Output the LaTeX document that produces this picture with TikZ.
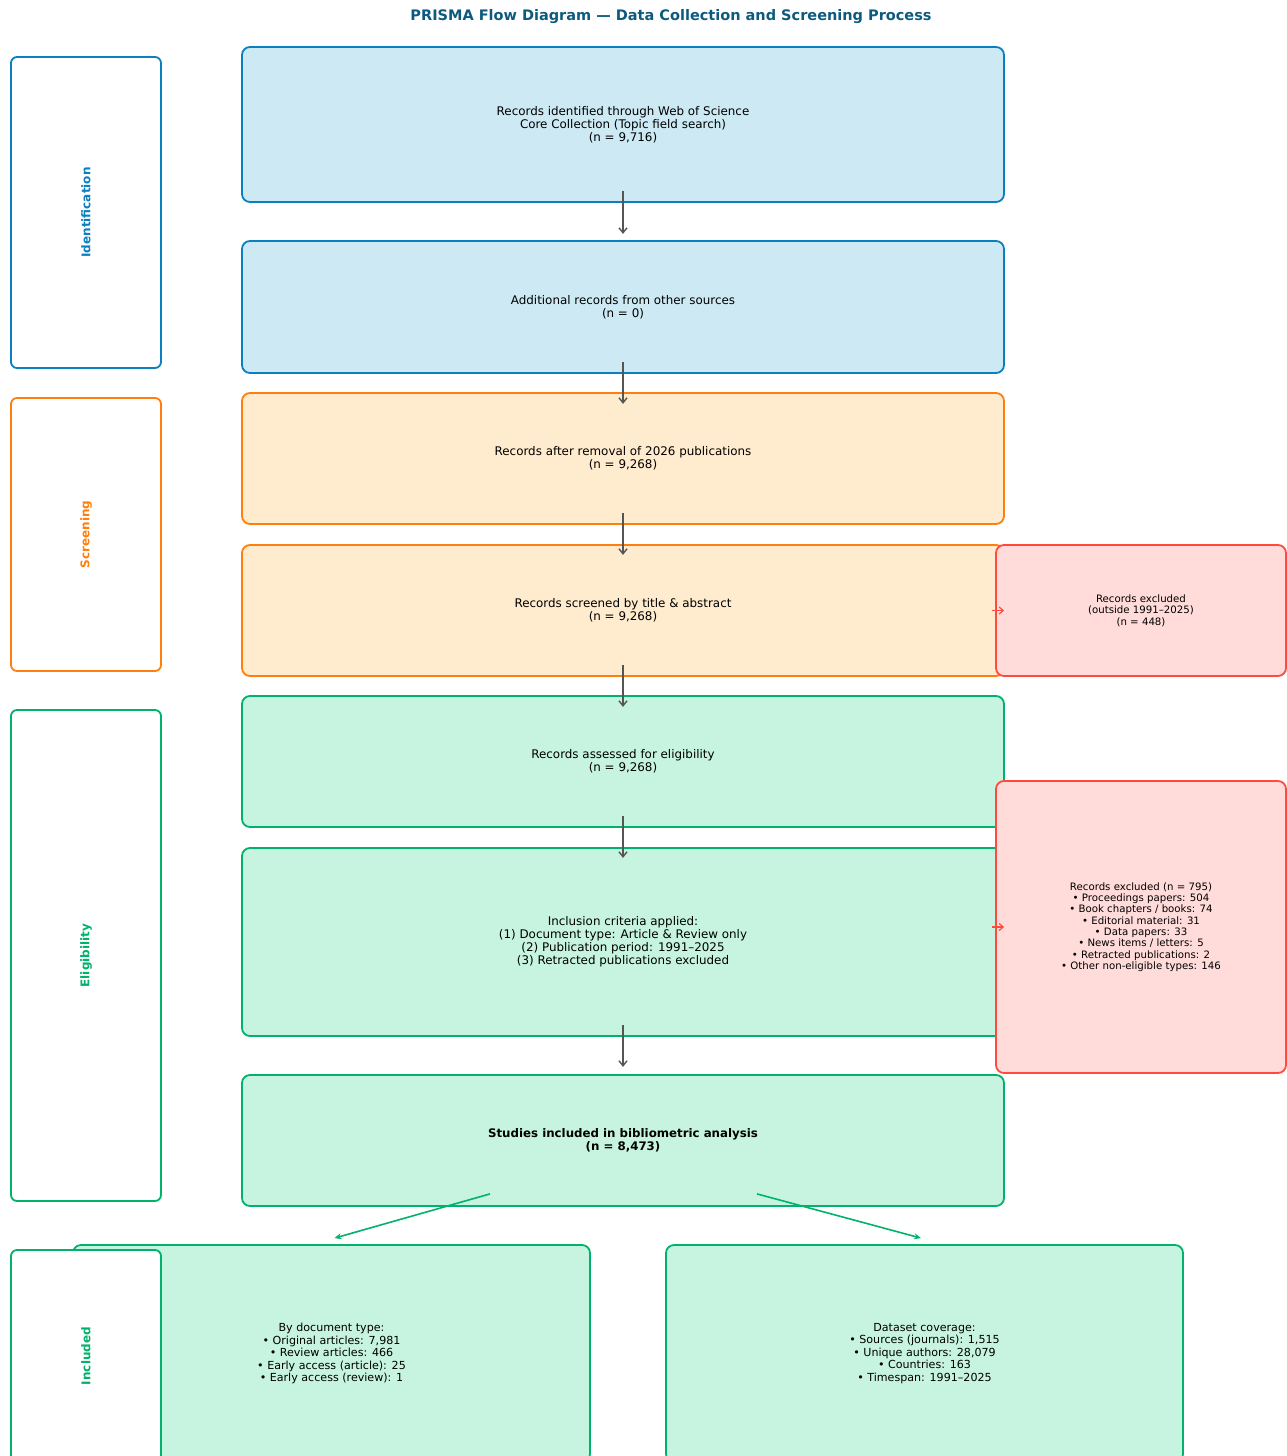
\documentclass[tikz,border=0pt]{standalone}
\usepackage{fontspec}
\setmainfont{DejaVu Sans}
\usepackage{xcolor}
\usetikzlibrary{arrows.meta}

\definecolor{azulB}{HTML}{0A80C0}
\definecolor{azulF}{HTML}{CDEAF4}
\definecolor{naranjaB}{HTML}{FF7F0E}
\definecolor{naranjaF}{HTML}{FFEBCD}
\definecolor{verdeB}{HTML}{00B26B}
\definecolor{verdeF}{HTML}{C7F4E0}
\definecolor{rojoB}{HTML}{FF4B3E}
\definecolor{rojoF}{HTML}{FFDCDA}
\definecolor{titulo}{HTML}{0D5A7E}
\definecolor{gris}{HTML}{555555}

\begin{document}
\begin{tikzpicture}[x=1pt, y=-1pt,
			 caja/.style={rectangle, rounded corners=8pt, draw, line width=1.8pt, inner sep=0pt, align=center, font=\fontsize{11.9}{13}\selectfont},
			 fase/.style={rectangle, rounded corners=6pt, draw, fill=white, line width=1.8pt, inner sep=0pt, minimum width=150pt},
			 excluido/.style={caja, draw=rojoB, fill=rojoF, minimum width=290pt, font=\fontsize{10.2}{11.3}\selectfont},
			 etiqueta/.style={rotate=90, font=\fontsize{12}{14}\selectfont\bfseries},
			 flecha/.style={-{Straight Barb[length=5pt, width=8pt]}, draw=gris, line width=1.4pt},
			 flechaverde/.style={-{Stealth[length=7pt, width=6pt]}, draw=verdeB, line width=1.6pt},
			 flecharoja/.style={-{Straight Barb[length=4pt, width=7pt]}, draw=rojoB, line width=1.2pt}
  		]
	\clip (0,0) rectangle (1287,1456);

	%Titulo
		\node (tit) at (671,17) {\fontsize{14.5}{16}\selectfont\bfseries\color{titulo}PRISMA Flow Diagram — Data Collection and Screening Process};

	%Cajas principales
		\node[caja, draw=azulB, fill=azulF, minimum width=762pt, minimum height=155pt] (b1) at (623,124.5) {Records identified through Web of Science\\Core Collection (Topic field search)\\(n = 9,716)};
		\node[caja, draw=azulB, fill=azulF, minimum width=762pt, minimum height=132pt] (b2) at (623,307) {Additional records from other sources\\(n = 0)};
		\node[caja, draw=naranjaB, fill=naranjaF, minimum width=762pt, minimum height=131pt] (b3) at (623,458.5) {Records after removal of 2026 publications\\(n = 9,268)};
		\node[caja, draw=naranjaB, fill=naranjaF, minimum width=762pt, minimum height=131pt] (b4) at (623,610.5) {Records screened by title \& abstract\\(n = 9,268)};
		\node[caja, draw=verdeB, fill=verdeF, minimum width=762pt, minimum height=131pt] (b5) at (623,761.5) {Records assessed for eligibility\\(n = 9,268)};
		\node[caja, draw=verdeB, fill=verdeF, minimum width=762pt, minimum height=188pt] (b6) at (623,942) {Inclusion criteria applied:\\(1) Document type: Article \& Review only\\(2) Publication period: 1991–2025\\(3) Retracted publications excluded};
		\node[caja, draw=verdeB, fill=verdeF, minimum width=762pt, minimum height=131pt, font=\fontsize{11.8}{13}\selectfont\bfseries] (b7) at (623,1140.5) {Studies included in bibliometric analysis\\(n = 8,473)};

	%Cajas de excluidos
		\node[excluido, minimum height=131pt] (ex1) at (1141,610.5) {Records excluded\\(outside 1991–2025)\\(n = 448)};
		\node[excluido, minimum height=292pt] (ex2) at (1141,927) {Records excluded (n = 795)\\• Proceedings papers: 504\\• Book chapters / books: 74\\• Editorial material: 31\\• Data papers: 33\\• News items / letters: 5\\• Retracted publications: 2\\• Other non-eligible types: 146};

	%Cajas finales
		\node[caja, draw=verdeB, fill=verdeF, minimum width=517pt, minimum height=217pt, font=\fontsize{11.1}{12.5}\selectfont] (inc1) at (331.5,1353.5) {By document type:\\• Original articles: 7,981\\• Review articles: 466\\• Early access (article): 25\\• Early access (review): 1};
		\node[caja, draw=verdeB, fill=verdeF, minimum width=517pt, minimum height=217pt, font=\fontsize{11.1}{12.5}\selectfont] (inc2) at (924.5,1353.5) {Dataset coverage:\\• Sources (journals): 1,515\\• Unique authors: 28,079\\• Countries: 163\\• Timespan: 1991–2025};

	%Fases
		\node[fase, draw=azulB, minimum height=311pt] (f1) at (86,212.5) {};
		\node[etiqueta, text=azulB] (e1) at (f1.center) {Identification};
		\node[fase, draw=naranjaB, minimum height=273pt] (f2) at (86,534.5) {};
		\node[etiqueta, text=naranjaB] (e2) at (f2.center) {Screening};
		\node[fase, draw=verdeB, minimum height=491pt] (f3) at (86,955.5) {};
		\node[etiqueta, text=verdeB] (e3) at (f3.center) {Eligibility};
		\node[fase, draw=verdeB, minimum height=212pt] (f4) at (86,1356) {};
		\node[etiqueta, text=verdeB] (e4) at (f4.center) {Included};

	%Flechas verticales
		\draw[flecha] ([yshift=12pt]b1.south) -- ([yshift=-31pt]b1.south);
		\draw[flecha] ([yshift=12pt]b2.south) -- ([yshift=-30pt]b2.south);
		\draw[flecha] ([yshift=12pt]b3.south) -- ([yshift=-30pt]b3.south);
		\draw[flecha] ([yshift=12pt]b4.south) -- ([yshift=-30pt]b4.south);
		\draw[flecha] ([yshift=12pt]b5.south) -- ([yshift=-30pt]b5.south);
		\draw[flecha] ([yshift=12pt]b6.south) -- ([yshift=-30pt]b6.south);
	%Flechas a excluidos
		\draw[flecharoja] ([xshift=-3pt]ex1.west) -- ([xshift=9pt]ex1.west);
		\draw[flecharoja] ([xshift=-3pt]ex2.west) -- ([xshift=9pt]ex2.west);
	%Flechas finales
		\draw[flechaverde] ([xshift=-133pt,yshift=13pt]b7.south) -- ([xshift=3pt,yshift=6pt]inc1.north);
		\draw[flechaverde] ([xshift=134pt,yshift=13pt]b7.south) -- ([xshift=-3.5pt,yshift=6pt]inc2.north);

\end{tikzpicture}
\end{document}
